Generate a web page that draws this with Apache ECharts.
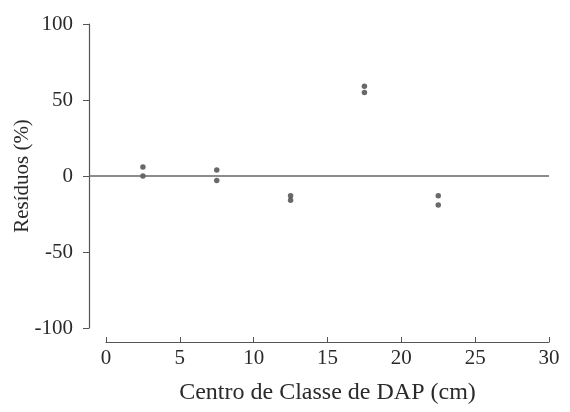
<!DOCTYPE html>
<html><head><meta charset="utf-8">
<script src="https://cdn.jsdelivr.net/npm/echarts@6/dist/echarts.min.js"></script>
<style>html,body{margin:0;padding:0;background:#fff}#c{width:570px;height:412px}</style>
</head><body><div id="c"></div>
<script>
const xClasses = [2.5, 2.5, 7.5, 7.5, 12.5, 12.5, 17.5, 17.5, 22.5, 22.5];
const residuals = [6, 0, 4, -3, -13, -16, 59, 55, -13, -19];
const xTicks = [0, 5, 10, 15, 20, 25, 30];
const yTicks = [-100, -50, 0, 50, 100];
const zeroLine = [0];

const font = 'Liberation Serif';
const axisColor = '#555';
const textColor = '#2a2a2a';
const chart = echarts.init(document.getElementById('c'));
chart.setOption({
  animation: false,
  textStyle: {fontFamily: font},
  grid: [
    {left: 106, right: 21, top: 24, bottom: 84, outerBoundsMode: 'none', containLabel: false},
    {left: 89, right: 21, top: 24, bottom: 84, outerBoundsMode: 'none', containLabel: false}
  ],
  xAxis: [
    {gridIndex: 0, type: 'value', min: xTicks[0], max: xTicks[xTicks.length-1], interval: 5,
     offset: 14,
     name: 'Centro de Classe de DAP (cm)', nameLocation: 'middle', nameGap: 39, nameMoveOverlap: false,
     nameTextStyle: {fontFamily: font, fontSize: 24, color: textColor},
     axisLine: {show: true, onZero: false, lineStyle: {color: axisColor, width: 1.2}},
     axisTick: {show: true, inside: true, length: 5, lineStyle: {color: axisColor}},
     axisLabel: {fontFamily: font, fontSize: 21, color: textColor, margin: 6},
     splitLine: {show: false}},
    {gridIndex: 1, type: 'value', min: 0, max: 1, show: false}
  ],
  yAxis: [
    {gridIndex: 0, type: 'value', min: yTicks[0], max: yTicks[yTicks.length-1], interval: 50,
     offset: 17,
     name: 'Resíduos (%)', nameLocation: 'middle', nameGap: 56, nameMoveOverlap: false,
     nameTextStyle: {fontFamily: font, fontSize: 21, color: textColor},
     axisLine: {show: true, onZero: false, lineStyle: {color: axisColor, width: 1.2}},
     axisTick: {show: true, length: 6, lineStyle: {color: axisColor}},
     axisLabel: {fontFamily: font, fontSize: 21, color: textColor, margin: 16},
     splitLine: {show: false}},
    {gridIndex: 1, type: 'value', min: yTicks[0], max: yTicks[yTicks.length-1], show: false}
  ],
  series: [
    {type: 'line', xAxisIndex: 1, yAxisIndex: 1, symbol: 'none',
     data: [[0, zeroLine[0]], [1, zeroLine[0]]],
     lineStyle: {color: '#666', width: 1.3}, silent: true},
    {type: 'scatter', xAxisIndex: 0, yAxisIndex: 0, symbolSize: 5.5,
     itemStyle: {color: '#444'},
     data: xClasses.map((x, i) => [x, residuals[i]])}
  ]
});
</script></body></html>
